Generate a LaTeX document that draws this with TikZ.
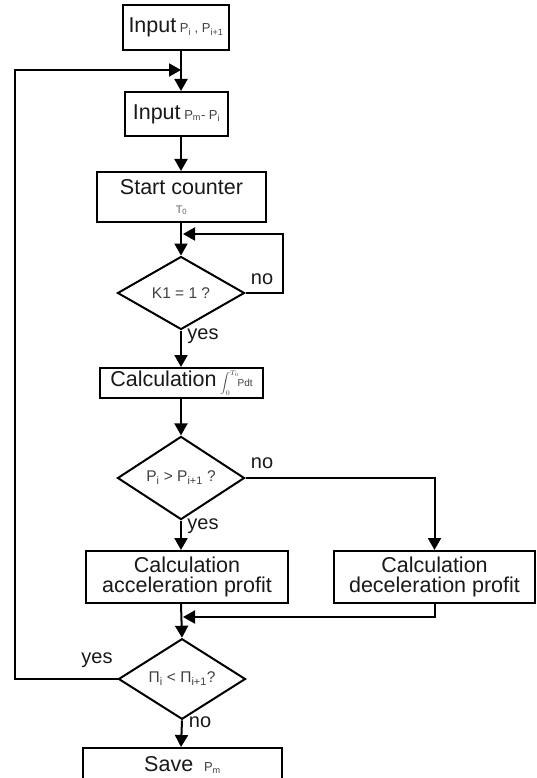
\documentclass[tikz,border=0pt]{standalone}
\usepackage{fontspec}
\setmainfont{Liberation Sans}
\usetikzlibrary{shapes.geometric,arrows.meta,calc}
\newcommand{\smf}{\fontsize{13}{13}\selectfont\color{black!75}}
\begin{document}
\begin{tikzpicture}[x=1pt,y=-1pt,
  line width=2pt,
  box/.style={draw, line width=2pt, rectangle, inner sep=0pt, align=center,
    font=\fontsize{21.5}{20}\selectfont, text=black!90},
  dec/.style={draw, diamond, inner sep=0pt, line width=2pt,
    minimum width=127pt, minimum height=73pt,
    font=\fontsize{15.5}{15.5}\selectfont, text=black!75},
  arr/.style={-{Triangle[width=13pt,length=12pt]}},
  lbl/.style={font=\fontsize{20}{20}\selectfont, inner sep=0pt, text=black!90}
]
\clip (0,0) rectangle (537,778);
\fill[white] (0,0) rectangle (537,778);

\coordinate (col) at (181,0);

\node[box, minimum width=106pt, minimum height=45pt] (b1) at (176,27.5)
  {Input\,{\smf P\textsubscript{i} , P\textsubscript{i+1}}};
\node[box, minimum width=103pt, minimum height=44pt] (b2) at (176.5,114)
  {Input\,{\smf P\textsubscript{m}- P\textsubscript{i}}};
\node[box, minimum width=169pt, minimum height=50pt] (b3) at (181.5,197)
  {Start counter\\[-1pt]{\fontsize{11}{11}\selectfont\color{black!60}T\textsubscript{0}}};
\node[dec] (d1) at (181,293) {K1 = 1 ?};
\node[box, minimum width=163pt, minimum height=30pt] (b4) at (181.5,383)
  {Calculation\,{\fontsize{10}{10}\selectfont\color{black!75}$\displaystyle\int_0^{T_0}$\!Pdt}};
\node[dec] (d2) at (181,478) {P\textsubscript{i} > P\textsubscript{i+1} ?};
\node[box, minimum width=202pt, minimum height=52pt] (b5) at (187,577)
  {Calculation\\acceleration profit};
\node[box, minimum width=201pt, minimum height=52pt] (b6) at (434.5,577)
  {Calculation\\deceleration profit};
\node[dec] (d3) at (182,679) {Π\textsubscript{i} < Π\textsubscript{i+1}?};
\node[box, minimum width=199pt, minimum height=34pt] (b7) at (182.5,765)
  {Save\enspace{\smf P\textsubscript{m}}};

\coordinate (j1) at (181,70);
\coordinate (lx) at (15,0);
\coordinate (j2) at (183,234);
\coordinate (rx) at (283,0);
\coordinate (j3) at (183,617);

\draw[arr] (b1.south -| col) -- (b2.north -| col);
\draw[arr] (b2.south -| col) -- (b3.north -| col);
\draw[arr] (b3.south -| col) -- (d1.north);
\draw[arr] (d1.east) -| (rx |- j2) -- (j2);
\draw[arr] (d1.south) -- (b4.north -| col);
\draw[arr] (b4.south -| col) -- (d2.north);
\draw[arr] (d2.south) -- (b5.north -| col);
\draw[arr] (d2.east) -| (b6.north);
\draw[arr] (b5.south -| col) -- (d3.north);
\draw[arr] (b6.south) |- (j3);
\draw[arr] (d3.west) -| (lx |- j1) -- (j1);
\draw[arr] (d3.south) -- (b7.north -| col);

\node[lbl] (n1) at (262,279) {no};
\node[lbl] (y1) at (203,336) {yes};
\node[lbl] (n2) at (262,463) {no};
\node[lbl] (y2) at (203,526) {yes};
\node[lbl] (y3) at (97,660) {yes};
\node[lbl] (n3) at (200,722) {no};
\end{tikzpicture}
\end{document}
